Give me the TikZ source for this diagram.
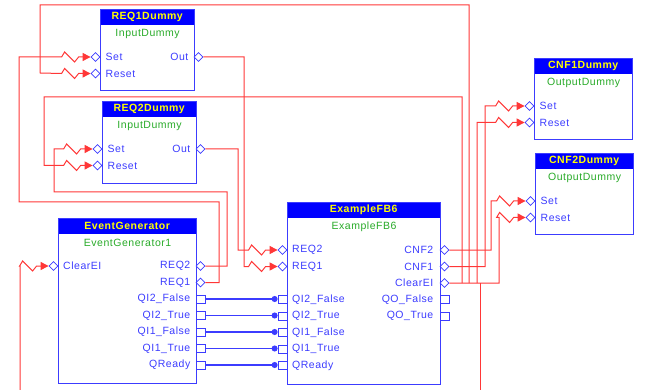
\documentclass[tikz,border=0pt]{standalone}
\usepackage{fontspec}
\setmainfont[LetterSpace=5]{Liberation Sans}
\usetikzlibrary{shapes.geometric,arrows.meta}

\definecolor{fbblue}{RGB}{60,60,255}
\definecolor{hdblue}{RGB}{0,0,255}
\definecolor{typegreen}{RGB}{40,170,40}
\definecolor{wirered}{RGB}{255,55,55}
\definecolor{ttlyellow}{RGB}{255,255,0}

\tikzset{
  every node/.style={font=\fontsize{10.5}{12}\selectfont},
  fbbox/.style={draw=fbblue, line width=1.2pt, anchor=north west, inner sep=0pt},
  fbhead/.style={fill=hdblue, anchor=north west, inner sep=0pt, minimum height=16pt,
    text=ttlyellow, font=\fontsize{10.5}{12}\selectfont\bfseries},
  fbtype/.style={text=typegreen},
  pinl/.style={text=fbblue, inner sep=0pt},
  evpin/.style={diamond, draw=fbblue, fill=white, line width=0.8pt, inner sep=0pt,
    minimum width=9pt, minimum height=9pt},
  dpin/.style={rectangle, draw=fbblue, fill=white, line width=0.8pt, inner sep=0pt,
    minimum width=9pt, minimum height=8pt},
  wire/.style={draw=wirered, line width=1pt},
  ev/.style={wire, -{Triangle[length=8pt,width=8pt]}},
  dat/.style={draw=fbblue, line width=1.2pt, -{Circle[length=6pt]}},
  zig/.style={to path={-- ([xshift=-29pt]\tikztotarget.west) -- ++(3,-5) -- ++(10,10)
    -- ++(4,-5) -- (\tikztotarget.west)}}
}

\begin{document}
\begin{tikzpicture}[x=1pt, y=-1pt]
  \useasboundingbox (0,0) rectangle (645,390);

  % function blocks
  \foreach \nm/\x/\y/\w/\h/\ttl/\typ in {
      r1/100/9/94pt/81pt/REQ1Dummy/InputDummy,
      r2/102/101/94pt/82pt/REQ2Dummy/InputDummy,
      c1/534/58/98pt/81pt/CNF1Dummy/OutputDummy,
      c2/535/153/98pt/81pt/CNF2Dummy/OutputDummy,
      eg/58/218/138pt/165pt/EventGenerator/EventGenerator1,
      fb6/287/202/153pt/182pt/ExampleFB6/ExampleFB6} {
    \node[fbhead, minimum width=\w] (\nm-h) at (\x,\y) {\raisebox{-1pt}{\ttl}};
    \node[fbbox, minimum width=\w, minimum height=\h] (\nm) at (\x,\y) {};
    \node[fbtype] (\nm-t) at ([yshift=-25pt]\nm.north) {\typ};
  }

  % input dummies
  \foreach \nm/\xl/\xr/\y in {r1/100/194/57, r2/102/196/149} {
    \node[evpin] (\nm-set) at (\xl-4.5,\y) {};
    \node[evpin] (\nm-rst) at (\xl-4.5,\y+16.5) {};
    \node[evpin] (\nm-out) at (\xr+4.5,\y) {};
    \node[pinl, right] (\nm-lset) at (\xl+5.5,\y) {Set};
    \node[pinl, right] (\nm-lrst) at (\xl+5.5,\y+16.5) {Reset};
    \node[pinl, left] (\nm-lout) at (\xr-5.5,\y) {Out};
  }

  % output dummies
  \foreach \nm/\xl/\y in {c1/534/106, c2/535/201} {
    \node[evpin] (\nm-set) at (\xl-4.5,\y) {};
    \node[evpin] (\nm-rst) at (\xl-4.5,\y+16.5) {};
    \node[pinl, right] (\nm-lset) at (\xl+5.5,\y) {Set};
    \node[pinl, right] (\nm-lrst) at (\xl+5.5,\y+16.5) {Reset};
  }

  % EventGenerator pins
  \node[evpin] (eg-clr) at (53.5,266) {};
  \node[pinl, right] (eg-lclr) at (63,266) {ClearEI};
  \node[evpin] (eg-req2) at (200.5,266) {};
  \node[pinl, left] (eg-lreq2) at (190.5,266) {REQ2};
  \node[evpin] (eg-req1) at (200.5,282.5) {};
  \node[pinl, left] (eg-lreq1) at (190.5,282.5) {REQ1};
  \foreach \i/\lbl in {0/QI2\_False, 1/QI2\_True, 2/QI1\_False, 3/QI1\_True, 4/QReady} {
    \node[dpin] (eg-q\i) at (200.5,{299+16.5*\i}) {};
    \node[pinl, left] (eg-lq\i) at (190.5,{299+16.5*\i}) {\lbl};
  }

  % ExampleFB6 pins
  \node[evpin] (fb6-req2) at (282.5,250) {};
  \node[pinl, right] (fb6-lreq2) at (292,250) {REQ2};
  \node[evpin] (fb6-req1) at (282.5,266.5) {};
  \node[pinl, right] (fb6-lreq1) at (292,266.5) {REQ1};
  \foreach \i/\p/\lbl in {0/cnf2/CNF2, 1/cnf1/CNF1, 2/clr/ClearEI} {
    \node[evpin] (fb6-\p) at (444.5,{250+16.5*\i}) {};
    \node[pinl, left] (fb6-l\p) at (433.5,{250+16.5*\i}) {\lbl};
  }
  \foreach \i/\lbl in {0/QI2\_False, 1/QI2\_True, 2/QI1\_False, 3/QI1\_True, 4/QReady} {
    \node[dpin] (fb6-q\i) at (282.5,{299.5+16.5*\i}) {};
    \node[pinl, right] (fb6-lq\i) at (292,{299.5+16.5*\i}) {\lbl};
  }
  \foreach \i/\lbl in {0/QO\_False, 1/QO\_True} {
    \node[dpin] (fb6-o\i) at (444.5,{299.5+16.5*\i}) {};
    \node[pinl, left] (fb6-lo\i) at (433.5,{299.5+16.5*\i}) {\lbl};
  }

  % data connections
  \foreach \i in {0,...,4}
    \draw[dat] (eg-q\i.east) -- (eg-q\i.east -| fb6-q\i.west);

  % event connections
  \draw[ev] (r1-out.east) -| (244,266.5) to[zig] (fb6-req1);
  \draw[ev] (r2-out.east) -| (238,250) to[zig] (fb6-req2);
  \draw[ev] (eg-req2.east) -| (227,192) -| (54,149) to[zig] (r2-set);
  \draw[ev] (eg-req1.east) -| (219,202) -| (19,57) to[zig] (r1-set);
  \draw[ev] (fb6-cnf2.east) -| (491,201) to[zig] (c2-set);
  \draw[ev] (fb6-cnf1.east) -| (485,106) to[zig] (c1-set);
  \draw[ev] (fb6-clr.east) -| (499,217.5) to[zig] (c2-rst);
  % ClearEI fan-out
  \coordinate (j1) at (462,283);
  \coordinate (j2) at (469,283);
  \coordinate (j3) at (477,283);
  \coordinate (j4) at (480,283);
  \coordinate (dn1) at (480,390);
  \coordinate (dn2) at (20,390);
  \draw[ev] (j1) |- (44,97) -- (44,165.5) to[zig] (r2-rst);
  \draw[ev] (j2) |- (40,5) -- (40,73) to[zig] (r1-rst);
  \draw[ev] (j3) -- (477,122.5) to[zig] (c1-rst);
  \draw[wire] (j4) -- (dn1);
  \draw[ev] (dn2) -- (20,266) to[zig] (eg-clr);
\end{tikzpicture}
\end{document}
